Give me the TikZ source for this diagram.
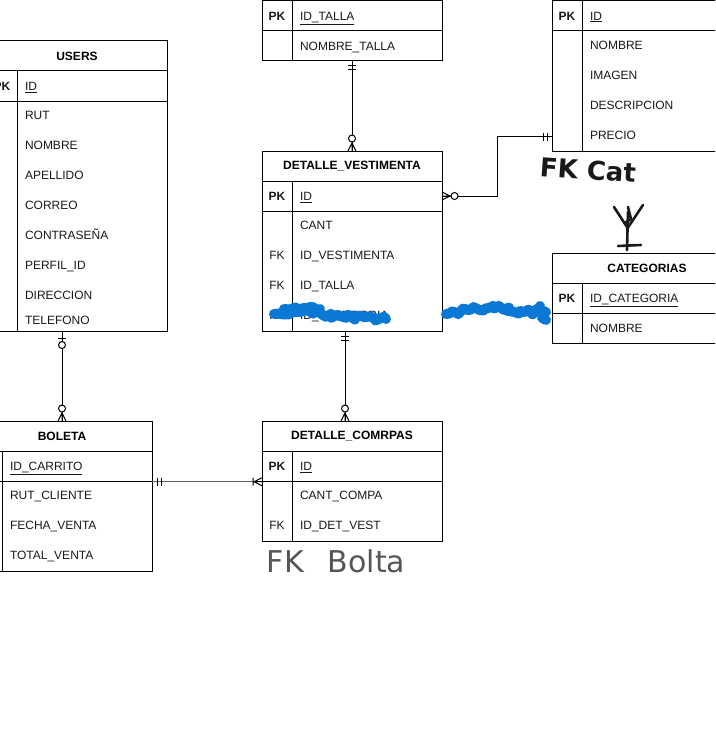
\documentclass[tikz,border=0pt]{standalone}
\usepackage{fontspec}
\setmainfont{Liberation Sans}
\newfontfamily\handfont{DejaVu Sans}
\usetikzlibrary{decorations.pathmorphing}

\definecolor{inkblue}{HTML}{0A78D4}
\definecolor{pengray}{HTML}{555555}
\definecolor{relgray}{HTML}{5E5E5E}

\tikzset{
  tbl/.style={draw, line width=1pt, inner sep=0pt, outer sep=0pt,
    minimum width=180, minimum height=30,
    font=\fontsize{12}{14}\selectfont\bfseries},
  rowbox/.style={inner sep=0pt, outer sep=0pt, minimum width=180, minimum height=30},
  tline/.style={line width=1pt},
  fld/.style={inner sep=0pt, outer sep=0pt, font=\fontsize{12}{14}\selectfont, text=black!90},
  rel/.style={line width=1pt},
  rel2/.style={line width=1.4pt, relgray},
  scribble/.style={inkblue, line width=10pt, line cap=round, line join=round,
    decorate, decoration={random steps, segment length=3.5pt, amplitude=3pt}},
  pen/.style={line width=2.6pt, line cap=round, line join=round, black!90},
  % relationship ends, drawn with the local x axis leaving the entity
  pics/mone/.style={code={\draw[line width=1pt] (5,-4) -- (5,4) (9,-4) -- (9,4);}},
  pics/zone/.style={code={\draw[line width=1pt] (7,-4) -- (7,4);
      \draw[line width=1pt, fill=white] (14,0) circle (3.5);}},
  pics/zmany/.style={code={\draw[line width=1pt] (0,-4) -- (8,0) -- (0,4) (0,0) -- (8,0);
      \draw[line width=1pt, fill=white] (12.5,0) circle (3.5);}},
  pics/onemany/.style={code={\draw[line width=1pt] (0,-4) -- (8,0) -- (0,4) (0,0) -- (8,0) (9,-4) -- (9,4);}},
}

% attribute text and key labels, placed on the middle of their row
\newcommand\erattr[4]{\node[fld, anchor=base west] (#1) at ({#2},{#3+4.3}) {#4};}
\newcommand\erkey[4]{\node[fld, anchor=base] (#1) at ({#2},{#3+4.3}) {#4};}
\newcommand\erpk[3]{\node[fld, anchor=base, font=\fontsize{12}{14}\selectfont\bfseries] (#1) at ({#2},{#3+4.3}) {PK};}

\begin{document}
\begin{tikzpicture}[x=1pt, y=-1pt]
\useasboundingbox (0,0) rectangle (715,752);
\fill[white] (0,0) rectangle (715,752);
\clip (0,0) rectangle (715,752);

% ---------------- USERS
\node[tbl] (users-title) at (77,56) {USERS};
\node[tbl] (users-pk) at (77,86) {};
\node[tbl, minimum height=230] (users-body) at (77,216) {};
\draw[tline] ([xshift=30pt]users-pk.north west) -- ([xshift=30pt]users-body.south west);
\erpk{users-k1}{2}{86}
\erattr{users-a1}{25}{86}{\underline{ID}}
\erattr{users-a2}{25}{115}{RUT}
\erattr{users-a3}{25}{145}{NOMBRE}
\erattr{users-a4}{25}{175}{APELLIDO}
\erattr{users-a5}{25}{205}{CORREO}
\erattr{users-a6}{25}{235}{CONTRASEÑA}
\erattr{users-a7}{25}{265}{PERFIL\_ID}
\erattr{users-a8}{25}{295}{DIRECCION}
\erattr{users-a9}{25}{320}{TELEFONO}

% ---------------- TALLA
\node[tbl] (talla-title) at (352,-14) {};
\node[tbl] (talla-pk) at (352,16) {};
\node[tbl] (talla-body) at (352,46) {};
\draw[tline] ([xshift=30pt]talla-pk.north west) -- ([xshift=30pt]talla-body.south west);
\erpk{talla-k1}{277}{16}
\erattr{talla-a1}{300}{16}{\underline{ID\_TALLA}}
\erattr{talla-a2}{300}{46}{NOMBRE\_TALLA}

% ---------------- VESTIMENTA
\node[tbl] (vest-title) at (642,-14) {};
\node[tbl] (vest-pk) at (642,16) {};
\node[tbl, minimum height=120] (vest-body) at (642,91) {};
\node[rowbox] (vest-precio) at (642,136.5) {};
\draw[tline] ([xshift=30pt]vest-pk.north west) -- ([xshift=30pt]vest-body.south west);
\erpk{vest-k1}{567}{16}
\erattr{vest-a1}{590}{16}{\underline{ID}}
\erattr{vest-a2}{590}{45}{NOMBRE}
\erattr{vest-a3}{590}{75}{IMAGEN}
\erattr{vest-a4}{590}{105}{DESCRIPCION}
\erattr{vest-a5}{590}{135}{PRECIO}

% ---------------- DETALLE_VESTIMENTA
\node[tbl] (dv-title) at (352,166) {DETALLE\_VESTIMENTA};
\node[tbl] (dv-pk) at (352,196) {};
\node[tbl, minimum height=120] (dv-body) at (352,271) {};
\draw[tline] ([xshift=30pt]dv-pk.north west) -- ([xshift=30pt]dv-body.south west);
\erpk{dv-k1}{277}{196}
\erattr{dv-a1}{300}{196}{\underline{ID}}
\erattr{dv-a2}{300}{225}{CANT}
\erkey{dv-k2}{277}{255}{FK}
\erattr{dv-a3}{300}{255}{ID\_VESTIMENTA}
\erkey{dv-k3}{277}{285}{FK}
\erattr{dv-a4}{300}{285}{ID\_TALLA}
\erkey{dv-k4}{277}{315}{FK}
\erattr{dv-a5}{300}{315}{ID\_CATEGORIA}

% ---------------- CATEGORIAS
\node[tbl, minimum width=190] (cat-title) at (647,268) {CATEGORIAS};
\node[tbl, minimum width=190] (cat-pk) at (647,298) {};
\node[tbl, minimum width=190] (cat-body) at (647,328) {};
\draw[tline] ([xshift=30pt]cat-pk.north west) -- ([xshift=30pt]cat-body.south west);
\erpk{cat-k1}{567}{298}
\erattr{cat-a1}{590}{298}{\underline{ID\_CATEGORIA}}
\erattr{cat-a2}{590}{328}{NOMBRE}

% ---------------- BOLETA
\node[tbl] (boleta-title) at (62,436) {BOLETA};
\node[tbl] (boleta-pk) at (62,466) {};
\node[tbl, minimum height=90] (boleta-body) at (62,526) {};
\draw[tline] ([xshift=30pt]boleta-pk.north west) -- ([xshift=30pt]boleta-body.south west);
\erattr{boleta-a1}{10}{466}{\underline{ID\_CARRITO}}
\erattr{boleta-a2}{10}{495}{RUT\_CLIENTE}
\erattr{boleta-a3}{10}{525}{FECHA\_VENTA}
\erattr{boleta-a4}{10}{555}{TOTAL\_VENTA}

% ---------------- DETALLE_COMRPAS
\node[tbl] (dc-title) at (352,436) {DETALLE\_COMRPAS};
\node[tbl] (dc-pk) at (352,466) {};
\node[tbl, minimum height=60] (dc-body) at (352,511) {};
\draw[tline] ([xshift=30pt]dc-pk.north west) -- ([xshift=30pt]dc-body.south west);
\erpk{dc-k1}{277}{466}
\erattr{dc-a1}{300}{466}{\underline{ID}}
\erattr{dc-a2}{300}{495}{CANT\_COMPA}
\erkey{dc-k2}{277}{525}{FK}
\erattr{dc-a3}{300}{525}{ID\_DET\_VEST}

% ---------------- relationships
\draw[rel] (talla-body.south) -- (dv-title.north);
\pic[rotate=-90] at (talla-body.south) {mone};
\pic[rotate=90] at (dv-title.north) {zmany};

\draw[rel] (dv-pk.east) -- ++(55.5,0) |- (vest-precio.west);
\pic at (dv-pk.east) {zmany};
\pic[rotate=180] at (vest-precio.west) {mone};

\draw[rel] (users-body.south -| boleta-title.north) -- (boleta-title.north);
\pic[rotate=-90] at (users-body.south -| boleta-title.north) {zone};
\pic[rotate=90] at (boleta-title.north) {zmany};

\draw[rel] ([xshift=-7pt]dv-body.south) -- ([xshift=-7pt]dc-title.north);
\pic[rotate=-90] at ([xshift=-7pt]dv-body.south) {mone};
\pic[rotate=90] at ([xshift=-7pt]dc-title.north) {zmany};

\draw[rel2] ([yshift=-0.7pt]boleta-pk.south east) -- ([yshift=-0.7pt]dc-pk.south west);
\pic at ([yshift=-0.7pt]boleta-pk.south east) {mone};
\pic[rotate=180] at ([yshift=-0.7pt]dc-pk.south west) {onemany};

% ---------------- marker strokes over the last row and towards CATEGORIAS
\pgfmathsetseed{11}
\draw[scribble] (274,314) -- (300,312) -- (340,316) -- (386,319);
\draw[scribble] (284,309) -- (320,309);
\draw[scribble] (446,314) -- (470,310) -- (493,306) -- (520,311) -- (546,312);
\draw[scribble] (540,306) -- (546,320);

% ---------------- pen notes
\node[font=\handfont\bfseries\fontsize{26}{28}\selectfont, text=black!90, inner sep=0pt, rotate=-4]
  (note-cat) at (588,170) {FK Cat};
\node[font=\handfont\fontsize{30}{32}\selectfont, text=pengray, inner sep=0pt]
  (note-bolta) at (336,561) {FK\hspace{24pt}Bolta};

% hand-drawn relation end sketch
\draw[pen] (627,250) -- (627.5,230) -- (628,212);
\draw[pen] (614,207) -- (627,227);
\draw[pen] (643,205) -- (627,229);
\draw[pen] (628,207) -- (631,219) -- (625,223);
\draw[pen] (618,246) -- (641,245);
\end{tikzpicture}
\end{document}
